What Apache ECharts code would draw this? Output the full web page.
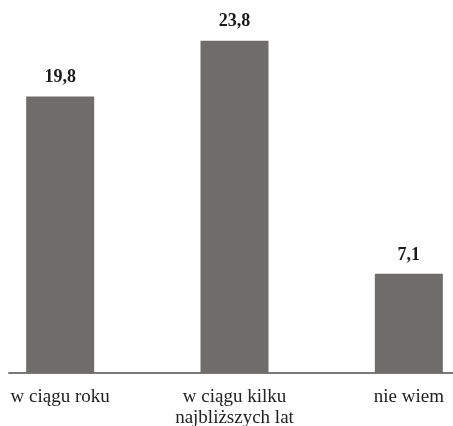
<!DOCTYPE html>
<html>
<head>
<meta charset="utf-8">
<script src="https://cdn.jsdelivr.net/npm/echarts@6/dist/echarts.min.js"></script>
<style>
html,body{margin:0;padding:0;background:#fff;}
#chart{width:453px;height:426px;}
</style>
</head>
<body>
<div id="chart"></div>
<script>
// dane
var categories = ['w ciągu roku', 'w ciągu kilku\nnajbliższych lat', 'nie wiem'];
var values = [19.8, 23.8, 7.1];

var myChart = echarts.init(document.getElementById('chart'));
var option = {
  animation: false,
  grid: [
    { left: -27, right: -43, top: 10, bottom: 53, outerBoundsMode: 'none' },
    // druga siatka tylko dla linii osi
    { left: 9, right: 0, top: 10, bottom: 53, outerBoundsMode: 'none' }
  ],
  xAxis: [
    {
      type: 'category',
      data: categories,
      gridIndex: 0,
      axisLine: { show: false },
      axisTick: { show: false },
      axisLabel: {
        margin: 14,
        fontFamily: 'Liberation Serif',
        fontSize: 19,
        color: '#222',
        lineHeight: 21,
        interval: 0
      }
    },
    {
      type: 'category',
      data: [''],
      gridIndex: 1,
      axisLine: { show: true, lineStyle: { color: '#7a7a7a', width: 2 } },
      axisTick: { show: false },
      axisLabel: { show: false }
    }
  ],
  yAxis: [
    { type: 'value', min: 0, max: 26, gridIndex: 0, show: false },
    { type: 'value', min: 0, max: 26, gridIndex: 1, show: false }
  ],
  series: [
    {
      type: 'bar',
      data: values,
      barWidth: 68,
      itemStyle: { color: '#6e6d6b' },
      label: {
        show: true,
        position: 'top',
        distance: 10,
        fontFamily: 'Liberation Serif',
        fontWeight: 'bold',
        fontSize: 18,
        color: '#1a1a1a',
        formatter: function (p) { return String(p.value).replace('.', ','); }
      }
    }
  ]
};
myChart.setOption(option);
window.addEventListener('resize', function () {
  myChart.resize();
});
</script>
</body>
</html>
